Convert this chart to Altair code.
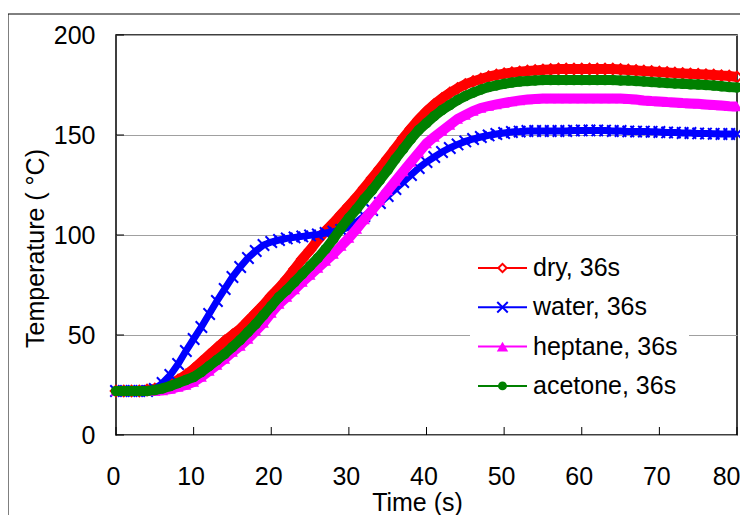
import altair as alt
import pandas as pd

# ---------------- data ----------------
time_s = list(range(81))

dry = [22, 22, 22, 22, 22.5, 23, 24, 25.5, 27.5, 30,
       33, 36.5, 40, 43.5, 47, 50, 53, 57, 61, 65,
       69.5, 73.5, 78, 83, 88, 92.5, 97.5, 102, 106, 110.3,
       114.6, 118.9, 123.6, 128.5, 133.3, 138.3, 143.3, 148.5, 153.3, 157.8,
       161.8, 165.3, 168.3, 171, 173.3, 175.3, 176.8, 178, 179.2, 180,
       180.7, 181.2, 181.6, 182, 182.3, 182.6, 182.8, 183, 183, 183,
       183, 183, 183, 183, 183, 182.8, 182.5, 182.3, 182, 181.8,
       181.5, 181.3, 181, 180.8, 180.6, 180.4, 180.2, 180, 179.7, 179.5,
       179]

water = [22, 22, 22, 22, 22, 23, 26, 30, 35.5, 42,
         48, 54, 60.5, 67, 73, 79, 84, 88.5, 92, 95,
         96.5, 97.5, 98.3, 98.8, 99.3, 99.8, 100.3, 101, 101.7, 102.5,
         104, 106.5, 109.5, 112.5, 116, 119.5, 123, 126.5, 130, 133.5,
         136.5, 139, 141.5, 143.5, 145.3, 146.8, 148, 149, 149.8, 150.5,
         151, 151.5, 151.7, 152, 152, 152, 152, 152, 152, 152.2,
         152.3, 152.3, 152.3, 152.2, 152, 152, 151.8, 151.7, 151.7, 151.6,
         151.5, 151.3, 151.2, 151, 151, 150.8, 150.7, 150.6, 150.5, 150.5,
         150.5]

heptane = [22, 22, 22, 22, 22, 22, 22.3, 23, 24, 25,
           26.5, 29, 32, 35, 38, 41.5, 44.5, 48, 52, 56,
           61, 65.5, 69, 72.7, 76.5, 80, 83.5, 87, 90.5, 94.5,
           98.5, 103, 107.8, 112.5, 117.3, 122.2, 127, 131.8, 136.5, 141.2,
           145.8, 149, 152, 155, 158, 160, 162, 163.5, 164.5, 165.3,
           166, 166.7, 167.3, 167.7, 168, 168.3, 168.3, 168.3, 168.3, 168.3,
           168.3, 168.3, 168.3, 168.3, 168.3, 168.3, 168, 167.7, 167.3, 167,
           166.8, 166.5, 166.3, 166, 165.8, 165.6, 165.3, 165, 164.7, 164.4,
           164.2]

acetone = [22, 22, 22, 22, 22, 22.5, 23.3, 24.5, 26, 27.5,
           29, 31.5, 34.5, 37.5, 40.5, 44, 47.5, 51.5, 55.5, 60,
           64.5, 69, 72.5, 76.5, 80.5, 84.5, 88.5, 93, 98, 103.5,
           108.5, 113, 118, 122.5, 127.5, 132.5, 138, 143, 148, 152.5,
           156, 159.5, 162.5, 165, 167.5, 169.5, 171.2, 172.7, 174, 174.8,
           175.6, 176.2, 176.7, 177, 177.3, 177.5, 177.5, 177.5, 177.5, 177.5,
           177.5, 177.5, 177.5, 177.5, 177.5, 177.3, 177.2, 177, 176.8, 176.5,
           176.3, 176, 175.8, 175.6, 175.4, 175.2, 175, 174.7, 174.4, 174,
           173.8]

series_names = ["dry, 36s", "water, 36s", "heptane, 36s", "acetone, 36s"]
series_colors = ["#ff0000", "#0000ff", "#ff00ff", "#008000"]
series_values = [dry, water, heptane, acetone]

x_ticks = [0, 10, 20, 30, 40, 50, 60, 70, 80]
y_ticks = [0, 50, 100, 150, 200]

x_title = "Time (s)"
y_title = "Temperature ( \u00b0C)"

# ---------------- styling ----------------
W, H = 621, 400
FONT = "Liberation Sans"
X_MARK = "M -1 -1 L 1 1 M -1 1 L 1 -1"
shapes = ["diamond", X_MARK, "triangle-up", "circle"]
filled = [False, False, True, True]
pt_sizes = [110, 130, 120, 110]
line_widths = [10, 7, 10, 10]
leg_sizes = [70, 110, 130, 80]

rows = []
for name, vals in zip(series_names, series_values):
    for t, v in zip(time_s, vals):
        rows.append({"t": t, "T": v, "series": name})
df = pd.DataFrame(rows)

xs = alt.Scale(domain=[0, 80], nice=False, zero=False)
ys = alt.Scale(domain=[0, 200], nice=False)

last_x = x_ticks[-1]
X = alt.X("t:Q", scale=xs, axis=alt.Axis(
    values=x_ticks, title=x_title, grid=False, ticks=False, domain=False,
    labelPadding=29, labelFontSize=25, labelFont=FONT, labelColor="black",
    labelFlush=False, labelOverlap=False,
    labelAlign={"condition": {"test": f"datum.value == {last_x}", "value": "right"}, "value": "center"},
    labelOffset={"condition": {"test": f"datum.value == {last_x}", "value": 3}, "value": -3},
    titleFontSize=25, titleFont=FONT, titleFontWeight="normal", titleColor="black",
    titleX=301, titleY=55, titleBaseline="top", titleAlign="center"))
Y = alt.Y("T:Q", scale=ys, axis=alt.Axis(
    values=y_ticks, title=y_title, grid=True, gridColor="#a0a0a0", gridWidth=1,
    ticks=False, domain=False, labelFlush=False, labelOverlap=False,
    labelPadding=21, labelFontSize=25, labelFont=FONT, labelColor="black",
    titleFontSize=25, titleFont=FONT, titleFontWeight="normal", titleColor="black",
    titleX=-73, titleY=213, titleAngle=270, titleBaseline="alphabetic",
    titleAlign="center"))

layers = []

# outer chart frame
one = pd.DataFrame({"k": [0]})
layers.append(alt.Chart(one).mark_rect(fillOpacity=0, stroke="black", strokeWidth=1).encode(
    x=alt.value(-108), x2=alt.value(900), y=alt.value(-21), y2=alt.value(800)))

# series
for name, color, shp, fl, sz, lw in zip(series_names, series_colors, shapes, filled, pt_sizes, line_widths):
    sub = df[df.series == name]
    layers.append(alt.Chart(sub).mark_line(color=color, strokeWidth=lw).encode(x=X, y=Y))
    if fl:
        pt = alt.Chart(sub).mark_point(shape=shp, filled=True, color=color, size=sz, opacity=1)
    else:
        pt = alt.Chart(sub).mark_point(shape=shp, filled=False, color=color, size=sz,
                                       strokeWidth=2, opacity=1)
    layers.append(pt.encode(x=X, y=Y))

# inward tick marks
layers.append(alt.Chart(pd.DataFrame({"T": y_ticks})).mark_rule(color="black", strokeWidth=1).encode(
    y=Y, x=alt.value(0), x2=alt.value(8)))
layers.append(alt.Chart(pd.DataFrame({"t": x_ticks})).mark_rule(color="black", strokeWidth=1).encode(
    x=X, y=alt.value(H), y2=alt.value(H - 8)))

# legend box
layers.append(alt.Chart(one).mark_rect(fill="white", stroke=None).encode(
    x=alt.value(354), x2=alt.value(573), y=alt.value(212), y2=alt.value(370)))
for i, (name, color, shp, fl, sz) in enumerate(zip(series_names, series_colors, shapes, filled, leg_sizes)):
    yy = 233 + i * 39.3
    lab = pd.DataFrame({"label": [name]})
    layers.append(alt.Chart(lab).mark_rule(color=color, strokeWidth=2).encode(
        x=alt.value(362), x2=alt.value(411), y=alt.value(yy)))
    if fl:
        lp = alt.Chart(lab).mark_point(shape=shp, filled=True, color=color, size=sz, opacity=1)
    else:
        lp = alt.Chart(lab).mark_point(shape=shp, filled=False, color=color, size=sz,
                                       strokeWidth=2, fill="white", opacity=1)
    layers.append(lp.encode(x=alt.value(386.5), y=alt.value(yy)))
    layers.append(alt.Chart(lab).mark_text(align="left", baseline="middle", fontSize=25,
                                           font=FONT, color="black").encode(
        x=alt.value(417), y=alt.value(yy), text="label:N"))

chart = alt.layer(*layers).properties(
    width=W, height=H,
    autosize=alt.AutoSizeParams(type="none"),
    padding={"left": 108, "top": 27, "right": 3, "bottom": 80},
    background="white",
).configure_view(stroke="black", strokeWidth=1.5)

chart.save("out.html", embed_options={"renderer": "svg", "actions": False})
